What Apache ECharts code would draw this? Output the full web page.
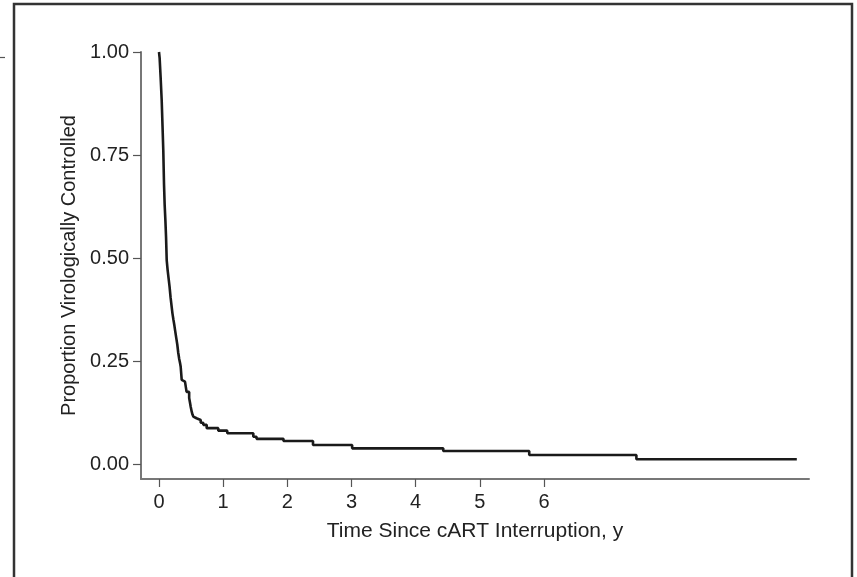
<!DOCTYPE html>
<html>
<head>
<meta charset="utf-8">
<script src="https://cdn.jsdelivr.net/npm/echarts@6/dist/echarts.min.js"></script>
<style>html,body{margin:0;padding:0;background:#fff;}#c{width:857px;height:577px;}</style>
</head>
<body>
<div id="c"></div>
<script>
// Kaplan-Meier estimate (event time, proportion controlled)
var times = [0, 0.01, 0.025, 0.042, 0.055, 0.067, 0.078, 0.088, 0.1, 0.11, 0.12, 0.135, 0.15, 0.165, 0.18, 0.198, 0.21, 0.225, 0.24, 0.255, 0.27, 0.285, 0.30, 0.315, 0.328, 0.338, 0.354, 0.38, 0.405, 0.43, 0.47, 0.482, 0.494, 0.51, 0.522, 0.535, 0.56, 0.585, 0.612, 0.65, 0.69, 0.743, 0.924, 1.064, 1.47, 1.52, 1.94, 2.40, 3.01, 4.43, 5.77, 7.44, 9.94];
var survival = [1.0, 0.985, 0.94, 0.883, 0.82, 0.76, 0.68, 0.63, 0.59, 0.55, 0.495, 0.47, 0.45, 0.43, 0.405, 0.381, 0.365, 0.35, 0.336, 0.32, 0.305, 0.29, 0.27, 0.255, 0.245, 0.236, 0.204, 0.20, 0.197, 0.175, 0.16, 0.15, 0.139, 0.127, 0.12, 0.115, 0.111, 0.109, 0.107, 0.10, 0.095, 0.087, 0.081, 0.0745, 0.066, 0.061, 0.056, 0.046, 0.038, 0.0316, 0.022, 0.0114, 0.0114];
var xTicks = [0, 1, 2, 3, 4, 5, 6];
var yTicks = [0, 0.25, 0.5, 0.75, 1.0];
var xTitle = 'Time Since cART Interruption, y';
var yTitle = 'Proportion Virologically Controlled';

var data = times.map(function (t, i) { return [t, survival[i]]; });
var font = '"Liberation Sans", Arial, sans-serif';
var chart = echarts.init(document.getElementById('c'), null, {renderer: 'canvas'});
chart.setOption({
  animation: false,
  backgroundColor: '#fff',
  grid: {left: 141, right: 48, top: 52, bottom: 98, containLabel: false},
  xAxis: {
    type: 'value', min: -0.2805, max: 10.13,
    splitLine: {show: false},
    axisLine: {show: true, onZero: false, lineStyle: {color: '#777', width: 2}},
    axisTick: {show: true, customValues: xTicks, length: 8, lineStyle: {color: '#555', width: 1.2}},
    axisLabel: {customValues: xTicks, margin: 13, color: '#222', fontSize: 20, fontFamily: font},
    name: xTitle, nameLocation: 'middle', nameGap: 42,
    nameTextStyle: {color: '#222', fontSize: 21, fontFamily: font}
  },
  yAxis: {
    type: 'value', min: -0.0364, max: 1.0,
    splitLine: {show: false},
    axisLine: {show: true, onZero: false, lineStyle: {color: '#777', width: 2}},
    axisTick: {show: true, customValues: yTicks, length: 8, lineStyle: {color: '#555', width: 1.2}},
    axisLabel: {customValues: yTicks, margin: 12, color: '#222', fontSize: 20, fontFamily: font,
      formatter: function (v) { return v.toFixed(2); }},
    name: yTitle, nameLocation: 'middle', nameGap: 62,
    nameTextStyle: {color: '#222', fontSize: 20, fontFamily: font}
  },
  series: [{
    type: 'line', step: 'end', data: data, showSymbol: false, symbol: 'none',
    lineStyle: {color: '#1a1a1a', width: 2.6}
  }],
  graphic: [
    {type: 'rect', shape: {x: 14, y: 4, width: 838, height: 620}, style: {fill: null, stroke: '#333', lineWidth: 2.5}, silent: true},
    {type: 'line', shape: {x1: 0, y1: 57.5, x2: 5, y2: 57.5}, style: {stroke: '#555', lineWidth: 1.2}, silent: true}
  ]
});
</script>
</body>
</html>
